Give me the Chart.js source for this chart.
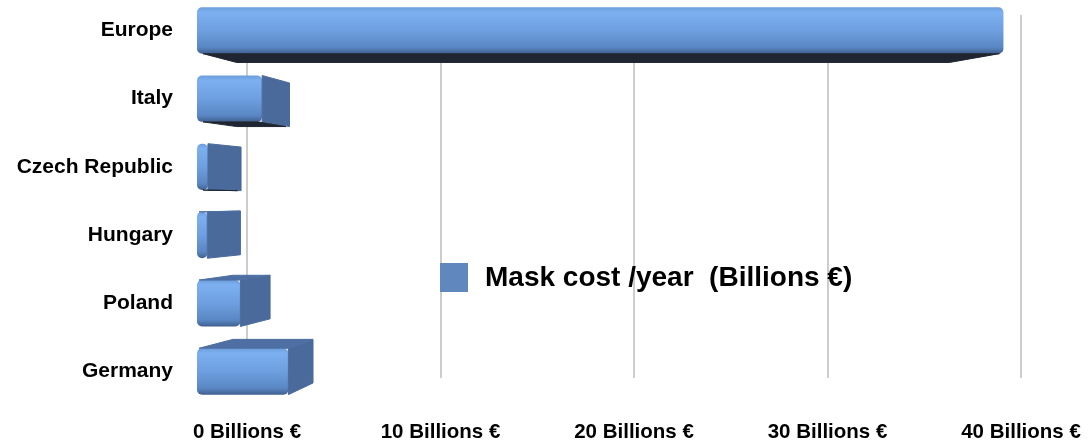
<!DOCTYPE html>
<html>
<head>
<meta charset="utf-8">
<script src="https://cdn.jsdelivr.net/npm/chart.js@4.4.1/dist/chart.umd.min.js"></script>
<style>
  html, body { margin: 0; padding: 0; background: #fff; }
  #wrap { position: relative; width: 1089px; height: 443px; }
</style>
</head>
<body>
<div id="wrap"><canvas id="grafico"></canvas></div>
<script>
// Datos del gráfico
const paises = ['Europe', 'Italy', 'Czech Republic', 'Hungary', 'Poland', 'Germany'];
const costeMascarillas = [35.3, 2.85, 0.48, 0.45, 1.9, 4.0];
const serieNombre = 'Mask cost /year  (Billions €)';
const valoresEje = [0, 10, 20, 30, 40];
const etiquetasEje = ['0 Billions €', '10 Billions €', '20 Billions €', '30 Billions €', '40 Billions €'];

const fuente = '"Liberation Sans", Arial, Helvetica, sans-serif';

// Punto de fuga y profundidad para el efecto 3D de las barras
const fuga = { x: 523, y: 200, px: 0.105, py: 0.06 };

function degradadoFrente(ctx) {
  const chart = ctx.chart;
  const ey = chart.scales.y;
  if (!ey || ctx.type !== 'data') return '#6a9bda';
  const c = ey.getPixelForValue(ctx.dataIndex);
  if (!isFinite(c)) return '#6a9bda';
  const g = chart.ctx.createLinearGradient(0, c - 24, 0, c + 24);
  g.addColorStop(0, '#6b9bd8');
  g.addColorStop(0.12, '#7cb0f0');
  g.addColorStop(0.5, '#6e9fe0');
  g.addColorStop(0.85, '#5a87c4');
  g.addColorStop(1, '#3c5a88');
  return g;
}

// Caras laterales, superiores e inferiores dibujadas a partir de cada barra
const caras3d = {
  id: 'caras3d',
  afterDatasetsDraw(chart) {
    const ctx = chart.ctx;
    const meta = chart.getDatasetMeta(0);
    const atras = (x, y) => [x + (fuga.x - x) * fuga.px, y + (fuga.y - y) * fuga.py];
    const poligono = (pts, color) => {
      ctx.beginPath();
      ctx.moveTo(pts[0][0], pts[0][1]);
      for (let i = 1; i < pts.length; i++) ctx.lineTo(pts[i][0], pts[i][1]);
      ctx.closePath();
      ctx.fillStyle = color;
      ctx.fill();
      ctx.strokeStyle = color;
      ctx.lineWidth = 1;
      ctx.lineJoin = 'round';
      ctx.stroke();
    };
    ctx.save();
    meta.data.forEach(bar => {
      const p = bar.getProps(['x', 'y', 'base', 'height'], true);
      const xl = Math.min(p.base, p.x), xr = Math.max(p.base, p.x);
      const top = p.y - p.height / 2, bot = p.y + p.height / 2;
      if (xr < fuga.x) {
        poligono([[xr, top], [xr, bot], atras(xr, bot), atras(xr, top)], '#4a6a9c');
      }
      if (top > fuga.y) {
        poligono([[xl + 2, top], [xr, top], atras(xr, top), atras(xl + 2, top)], '#4d6fa3');
      } else if (bot < fuga.y) {
        poligono([[xl + 6, bot], [xr - 4, bot], atras(xr - 4, bot), atras(xl + 6, bot)], '#1f2632');
      }
    });
    ctx.restore();
  }
};

// Leyenda dentro del área del gráfico
const leyenda = {
  id: 'leyenda',
  afterDraw(chart) {
    const ctx = chart.ctx;
    ctx.save();
    ctx.fillStyle = '#6088bf';
    ctx.fillRect(440, 263, 28, 29);
    ctx.fillStyle = '#000';
    ctx.font = 'bold 28px ' + fuente;
    ctx.textBaseline = 'middle';
    ctx.textAlign = 'left';
    ctx.fillText(chart.data.datasets[0].label, 485, 278);
    ctx.restore();
  }
};

new Chart(document.getElementById('grafico'), {
  type: 'bar',
  data: {
    datasets: [{
      label: serieNombre,
      data: paises.map((p, i) => ({ x: costeMascarillas[i], y: i })),
      xAxisID: 'x2',
      yAxisID: 'y',
      backgroundColor: degradadoFrente,
      borderWidth: 0,
      borderRadius: 5,
      borderSkipped: false,
      categoryPercentage: 0.8,
      barPercentage: 0.85,
      clip: false
    }]
  },
  options: {
    indexAxis: 'y',
    responsive: true,
    maintainAspectRatio: false,
    animation: false,
    layout: { padding: { top: 15, right: 49, left: 0, bottom: 0 } },
    plugins: { legend: { display: false }, tooltip: { enabled: false } },
    scales: {
      x: {
        type: 'linear',
        position: 'bottom',
        min: -2.584,
        max: 40.98,
        afterBuildTicks: s => { s.ticks = valoresEje.map(v => ({ value: v })); },
        afterFit: s => { s.height = 65; },
        grid: { color: '#cdcdcd', lineWidth: 2, drawTicks: true, tickLength: 42, tickColor: 'rgba(0,0,0,0)' },
        border: { display: false },
        ticks: {
          padding: 0,
          color: '#000',
          font: { family: fuente, size: 20.5, weight: 'bold' },
          maxRotation: 0,
          autoSkip: false,
          callback: v => etiquetasEje[valoresEje.indexOf(v)]
        }
      },
      x2: {
        type: 'linear',
        position: 'bottom',
        display: false,
        min: 0,
        max: 36.9
      },
      y: {
        type: 'linear',
        reverse: true,
        offset: false,
        min: -0.227,
        max: 5.096,
        afterBuildTicks: s => { s.ticks = paises.map((p, i) => ({ value: i })); },
        afterFit: s => { s.width = 197; },
        grid: { display: true, drawOnChartArea: false, offset: false, drawTicks: true, tickLength: 24, tickColor: 'rgba(0,0,0,0)' },
        border: { display: false },
        ticks: {
          padding: 0,
          color: '#000',
          autoSkip: false,
          font: { family: fuente, size: 21, weight: 'bold' },
          callback: v => paises[v]
        }
      }
    }
  },
  plugins: [caras3d, leyenda]
});
</script>
</body>
</html>
